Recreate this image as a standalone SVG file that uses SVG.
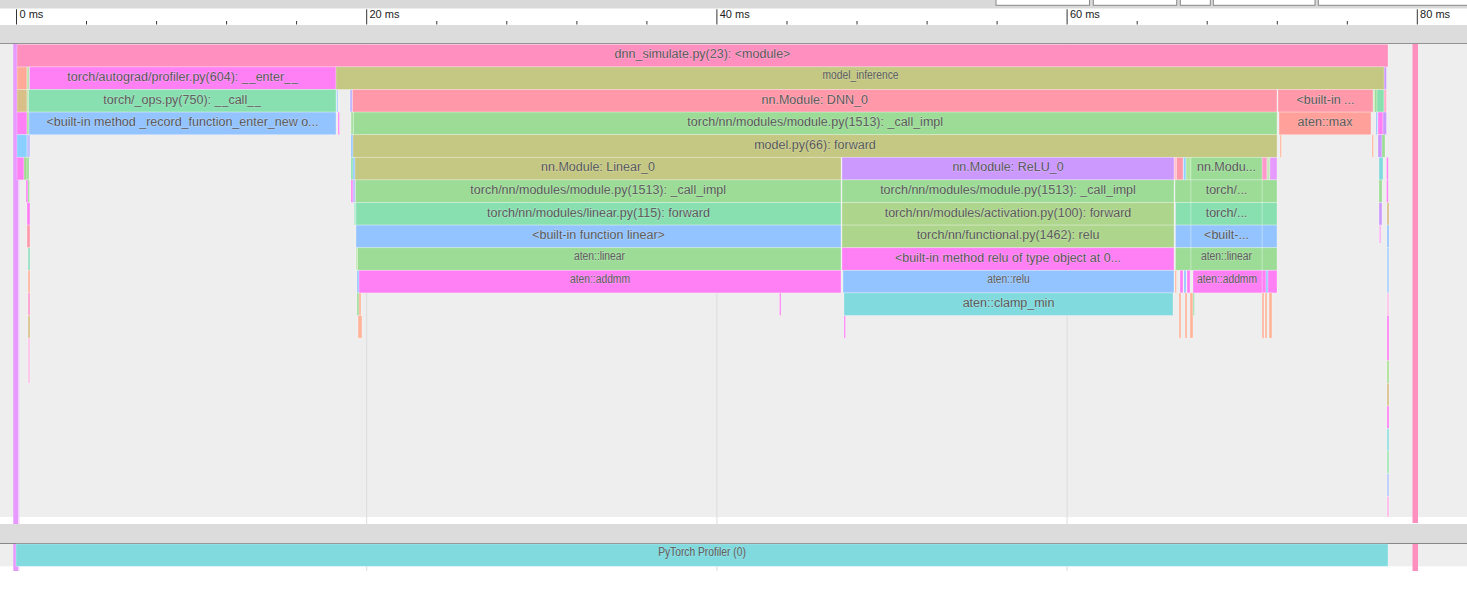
<svg xmlns="http://www.w3.org/2000/svg" width="1467" height="593" viewBox="0 0 1467 593">
<style>
.t{font-family:"Liberation Sans",Arial,sans-serif;font-size:12.5px;fill:#111;text-anchor:middle}
.s{font-family:"Liberation Sans",Arial,sans-serif;font-size:12px;fill:#111;text-anchor:middle}
.r{font-family:"Liberation Sans",Arial,sans-serif;font-size:11px;fill:#222}
.b{stroke:#fff;stroke-opacity:.35;stroke-width:.8}
.pk{fill:#ff8fbf}.mg{fill:#ff80f5}.ol{fill:#c4c882}.te{fill:#88dfb0}.gr{fill:#9cdc96}.bl{fill:#94c4ff}
.vi{fill:#cc99ff}.cy{fill:#80dade}.rs{fill:#ff99aa}.sa{fill:#ffa09a}.yg{fill:#add58b}.sl{fill:#ffb49a}
.tn{fill:#d8c088}.lv{fill:#c0c0ff}.lp{fill:#ffc0e8}
.grid{stroke:#dcdcdc;stroke-width:1}
.tk{stroke:#333;stroke-width:1}
</style>
<!-- chrome -->
<rect x="0" y="0" width="1467" height="8.7" fill="#d9d9d9"/>
<g fill="#fff" stroke="#888" stroke-width="1">
<rect x="996" y="-2" width="93.5" height="7.3"/>
<rect x="1093.3" y="-2" width="83.4" height="7.3"/>
<rect x="1180.3" y="-2" width="30" height="7.3"/>
<rect x="1213.3" y="-2" width="101.7" height="7.3"/>
<rect x="1318.3" y="-2" width="160" height="7.3"/>
</g>
<rect x="0" y="8.7" width="1467" height="16.3" fill="#fff"/>
<rect x="0" y="25" width="1467" height="18.3" fill="#dcdcdc"/>
<line x1="0" y1="43.6" x2="1467" y2="43.6" stroke="#888" stroke-width="1"/>
<rect x="0" y="44" width="1467" height="473" fill="#eee"/>
<rect x="0" y="524" width="1467" height="19" fill="#dcdcdc"/>
<line x1="0" y1="543.5" x2="1467" y2="543.5" stroke="#888" stroke-width="1"/>
<rect x="0" y="544" width="1467" height="22.3" fill="#eee"/>
<!-- ruler -->
<g class="tk">
<line x1="16.5" y1="9.3" x2="16.5" y2="24.5"/><line x1="366.7" y1="9.3" x2="366.7" y2="24.5"/><line x1="716.9" y1="9.3" x2="716.9" y2="24.5"/><line x1="1067.1" y1="9.3" x2="1067.1" y2="24.5"/><line x1="1417.3" y1="9.3" x2="1417.3" y2="24.5"/>
<line x1="86.5" y1="21" x2="86.5" y2="24.5"/><line x1="156.6" y1="21" x2="156.6" y2="24.5"/><line x1="226.6" y1="21" x2="226.6" y2="24.5"/><line x1="296.6" y1="21" x2="296.6" y2="24.5"/>
<line x1="436.8" y1="21" x2="436.8" y2="24.5"/><line x1="506.8" y1="21" x2="506.8" y2="24.5"/><line x1="576.9" y1="21" x2="576.9" y2="24.5"/><line x1="646.9" y1="21" x2="646.9" y2="24.5"/>
<line x1="787" y1="21" x2="787" y2="24.5"/><line x1="857" y1="21" x2="857" y2="24.5"/><line x1="927.1" y1="21" x2="927.1" y2="24.5"/><line x1="997.1" y1="21" x2="997.1" y2="24.5"/>
<line x1="1137.2" y1="21" x2="1137.2" y2="24.5"/><line x1="1207.2" y1="21" x2="1207.2" y2="24.5"/><line x1="1277.3" y1="21" x2="1277.3" y2="24.5"/><line x1="1347.3" y1="21" x2="1347.3" y2="24.5"/>
</g>
<text class="r" x="19.5" y="18">0 ms</text>
<text class="r" x="369.5" y="18">20 ms</text>
<text class="r" x="719.7" y="18">40 ms</text>
<text class="r" x="1069.9" y="18">60 ms</text>
<text class="r" x="1420.1" y="18">80 ms</text>
<!-- grid -->
<g class="grid">
<line x1="366.7" y1="44" x2="366.7" y2="524"/><line x1="716.9" y1="44" x2="716.9" y2="524"/><line x1="1067.1" y1="44" x2="1067.1" y2="524"/>
<line x1="366.7" y1="544" x2="366.7" y2="571"/><line x1="716.9" y1="544" x2="716.9" y2="571"/><line x1="1067.1" y1="544" x2="1067.1" y2="571"/>
</g>
<!-- long strips -->
<g id="strips">
<rect x="13.3" y="44" width="5" height="480" fill="#e699ff"/>
<rect x="18.3" y="44" width="1.2" height="480" fill="#f2d0ff"/>
<rect x="13.3" y="544" width="5" height="27" fill="#e699ff"/>
<rect x="18.3" y="544" width="1.2" height="27" fill="#f2d0ff"/>
<rect x="1412.5" y="44" width="5.5" height="479" class="pk"/>
<rect x="1412.5" y="544" width="5.5" height="27" class="pk"/>
</g>
<!-- slivers -->
<g id="slivers" class="b">
<rect x="17" y="66.9" width="10" height="22.6" fill="#ffaa99"/><rect x="27" y="66.9" width="2.5" height="22.6" fill="#b8e6b0"/>
<rect x="17" y="89.5" width="10" height="22.6" class="tn"/><rect x="27" y="89.5" width="1.5" height="22.6" fill="#b8e6b0"/>
<rect x="17" y="112.1" width="10" height="22.6" class="mg"/><rect x="27" y="112.1" width="2" height="22.6" fill="#a8e0a0"/>
<rect x="17" y="134.7" width="10" height="22.6" fill="#88d0ff"/><rect x="27" y="134.7" width="3" height="22.6" class="lv"/>
<rect x="17" y="157.3" width="7" height="22.6" class="mg"/><rect x="24" y="157.3" width="3" height="22.6" fill="#a0d890"/><rect x="27" y="157.3" width="2" height="22.6" class="gr"/>
<rect x="26" y="179.9" width="2" height="22.6" class="mg"/><rect x="28" y="179.9" width="1.5" height="22.6" class="gr"/>
<rect x="27" y="202.5" width="3" height="22.6" class="mg"/>
<rect x="27" y="225.1" width="3" height="22.6" class="rs"/>
<rect x="28" y="247.7" width="2" height="22.6" fill="#90e0c0"/>
<rect x="28" y="270.3" width="2" height="22.6" class="sl"/>
<rect x="28" y="292.9" width="2" height="22.6" fill="#ff99cc"/>
<rect x="28" y="315.5" width="2" height="22.6" class="tn"/>
<rect x="28" y="338.1" width="2" height="45" class="lp"/>
<rect x="336.5" y="89.5" width="1.5" height="22.6" fill="#a8d0ff"/>
<rect x="350" y="89.5" width="2.5" height="22.6" fill="#bfb8ff"/>
<rect x="338" y="112.1" width="1.5" height="22.6" class="mg"/>
<rect x="351" y="112.1" width="2.5" height="22.6" fill="#a8e0a0"/>
<rect x="351" y="134.7" width="2" height="22.6" class="bl"/>
<rect x="351" y="157.3" width="2" height="22.6" class="te"/><rect x="353" y="157.3" width="2" height="22.6" class="bl"/>
<rect x="351" y="179.9" width="2" height="22.6" class="mg"/><rect x="353" y="179.9" width="2.5" height="22.6" class="lv"/>
<rect x="354" y="202.5" width="2" height="22.6" fill="#b0e8d0"/>
<rect x="356" y="247.7" width="1.5" height="22.6" fill="#c0e8b0"/>
<rect x="357" y="270.3" width="2" height="22.6" class="bl"/>
<rect x="357" y="292.9" width="2" height="22.6" class="gr"/><rect x="359" y="292.9" width="2" height="22.6" class="sl"/>
<rect x="358" y="315.5" width="4" height="22.6" class="sl"/>
<rect x="779.5" y="292.9" width="1.5" height="22.6" class="mg"/>
<rect x="844" y="315.5" width="1.5" height="22.6" class="mg"/>
<rect x="1174" y="157.3" width="2.5" height="22.6" fill="#ffc0d0"/><rect x="1176.5" y="157.3" width="6.5" height="22.6" class="rs"/><rect x="1183.5" y="157.3" width="2.5" height="22.6" fill="#90d0ff"/><rect x="1186" y="157.3" width="5" height="22.6" fill="#b0e6a0"/>
<rect x="1262" y="157.3" width="5" height="22.6" fill="#ff99cc"/><rect x="1267" y="157.3" width="3" height="22.6" fill="#c8e8c0"/><rect x="1270" y="157.3" width="7" height="22.6" fill="#e699ff"/>
<rect x="1175" y="179.9" width="16" height="22.6" class="gr"/><rect x="1262" y="179.9" width="15" height="22.6" class="gr"/>
<rect x="1175.5" y="202.5" width="15.5" height="22.6" class="te"/><rect x="1262" y="202.5" width="15" height="22.6" class="te"/>
<rect x="1175.5" y="225.1" width="15.5" height="22.6" class="bl"/><rect x="1262" y="225.1" width="15" height="22.6" class="bl"/>
<rect x="1175.5" y="247.7" width="15.5" height="22.6" class="gr"/><rect x="1262" y="247.7" width="15" height="22.6" class="gr"/>
<rect x="1175" y="270.3" width="1.5" height="22.6" class="sl"/><rect x="1180" y="270.3" width="3" height="22.6" class="mg"/><rect x="1184" y="270.3" width="2" height="22.6" class="bl"/><rect x="1187" y="270.3" width="3" height="22.6" class="mg"/>
<rect x="1262" y="270.3" width="4" height="22.6" class="mg"/><rect x="1266" y="270.3" width="2" height="22.6" class="bl"/><rect x="1268" y="270.3" width="9" height="22.6" class="mg"/>
<rect x="1179" y="292.9" width="2" height="45.2" class="sl"/><rect x="1185" y="292.9" width="2" height="45.2" class="sl"/><rect x="1190" y="292.9" width="3" height="45.2" class="sl"/><rect x="1193" y="292.9" width="1.5" height="22.6" fill="#a0e0b0"/>
<rect x="1262" y="292.9" width="2" height="45.2" class="sl"/><rect x="1265" y="292.9" width="2" height="45.2" class="sl"/><rect x="1269" y="292.9" width="3" height="45.2" class="sl"/>
<rect x="1373" y="89.5" width="1.5" height="22.6" fill="#c8f0c8"/><rect x="1374.5" y="89.5" width="2.5" height="22.6" class="gr"/><rect x="1377" y="89.5" width="7" height="22.6" class="te"/><rect x="1384" y="89.5" width="2.5" height="22.6" fill="#ffb0c8"/>
<rect x="1384" y="66.9" width="2.5" height="22.6" class="vi"/>
<rect x="1376" y="112.1" width="1.5" height="22.6" class="bl"/><rect x="1378" y="112.1" width="5" height="22.6" class="mg"/><rect x="1383" y="112.1" width="3.5" height="22.6" class="vi"/>
<rect x="1280" y="134.7" width="1.5" height="22.6" class="sl"/><rect x="1372" y="134.7" width="1.5" height="22.6" class="sl"/><rect x="1378" y="134.7" width="4" height="22.6" class="vi"/><rect x="1382" y="134.7" width="3" height="22.6" class="gr"/>
<rect x="1379" y="157.3" width="4" height="22.6" class="cy"/><rect x="1386.5" y="157.3" width="1.8" height="22.6" class="mg"/>
<rect x="1379" y="179.9" width="3" height="22.6" class="gr"/><rect x="1386.5" y="179.9" width="1.8" height="22.6" class="mg"/>
<rect x="1379" y="202.5" width="3" height="22.6" class="vi"/><rect x="1387" y="202.5" width="2" height="22.6" class="tn"/>
<rect x="1379.5" y="225.1" width="1.2" height="18" class="mg"/><rect x="1387" y="225.1" width="2" height="22.6" class="bl"/>
<rect x="1387" y="247.7" width="2" height="45.2" fill="#a8d0ff"/>
<rect x="1387" y="292.9" width="2" height="22.6" class="lp"/>
<rect x="1387" y="315.5" width="2" height="45.2" class="mg"/>
<rect x="1387" y="360.7" width="2" height="22.6" fill="#a8e090"/>
<rect x="1387" y="383.3" width="2" height="22.6" class="tn"/>
<rect x="1387" y="405.9" width="2" height="22.6" class="mg"/>
<rect x="1387" y="428.5" width="2" height="22.6" fill="#90e0e0"/>
<rect x="1387" y="451.1" width="2" height="22.6" fill="#a0e6b0"/>
<rect x="1387" y="473.7" width="2" height="22.6" fill="#b8c8ff"/>
<rect x="1387" y="496.3" width="2" height="20.7" fill="#ffb8e8"/>
</g>
<!-- nodes -->
<g id="n-module" class="b"><rect x="17" y="44.3" width="1371" height="22.6" class="pk"/><text class="t" x="702.5" y="58.3">dnn_simulate.py(23): &lt;module&gt;</text></g>
<g id="n-enter" class="b"><rect x="29.5" y="66.9" width="306.5" height="22.6" class="mg"/><text class="t" x="182.7" y="80.9">torch/autograd/profiler.py(604): __enter__</text></g>
<g id="n-inference" class="b"><rect x="336" y="66.9" width="1048" height="22.6" class="ol"/><text class="s" x="860.5" y="79.3" font-size="11" textLength="76" lengthAdjust="spacingAndGlyphs">model_inference</text></g>
<g id="n-opscall" class="b"><rect x="28.5" y="89.5" width="307.5" height="22.6" class="te"/><text class="t" x="182.2" y="103.5">torch/_ops.py(750): __call__</text></g>
<g id="n-dnn0" class="b"><rect x="352.5" y="89.5" width="924.5" height="22.6" class="rs"/><text class="t" x="814.7" y="103.5">nn.Module: DNN_0</text></g>
<g id="n-builtin-max" class="b"><rect x="1278" y="89.5" width="95" height="22.6" class="rs"/><text class="t" x="1325.5" y="103.5">&lt;built-in ...</text></g>
<g id="n-record" class="b"><rect x="29" y="112.1" width="307" height="22.6" class="bl"/><text class="t" x="182.5" y="126.1">&lt;built-in method _record_function_enter_new o...</text></g>
<g id="n-callimpl0" class="b"><rect x="353.5" y="112.1" width="923.5" height="22.6" class="gr"/><text class="t" x="815.2" y="126.1">torch/nn/modules/module.py(1513): _call_impl</text></g>
<g id="n-atenmax" class="b"><rect x="1279" y="112.1" width="92" height="22.6" class="sa"/><text class="t" x="1325" y="126.1">aten::max</text></g>
<g id="n-forward" class="b"><rect x="353" y="134.7" width="924" height="22.6" class="ol"/><text class="t" x="815" y="148.7">model.py(66): forward</text></g>
<g id="n-linear0" class="b"><rect x="355" y="157.3" width="486" height="22.6" class="ol"/><text class="t" x="598" y="171.3">nn.Module: Linear_0</text></g>
<g id="n-relu0" class="b"><rect x="842" y="157.3" width="332" height="22.6" class="vi"/><text class="t" x="1008" y="171.3">nn.Module: ReLU_0</text></g>
<g id="n-linear1" class="b"><rect x="1191" y="157.3" width="71" height="22.6" class="gr"/><text class="t" x="1226.5" y="171.3">nn.Modu...</text></g>
<g id="n-callimpl1" class="b"><rect x="355.5" y="179.9" width="485.5" height="22.6" class="gr"/><text class="t" x="598.2" y="193.9">torch/nn/modules/module.py(1513): _call_impl</text></g>
<g id="n-callimpl2" class="b"><rect x="842" y="179.9" width="332" height="22.6" class="gr"/><text class="t" x="1008" y="193.9">torch/nn/modules/module.py(1513): _call_impl</text></g>
<g id="n-callimpl3" class="b"><rect x="1191" y="179.9" width="71" height="22.6" class="gr"/><text class="t" x="1226.5" y="193.9">torch/...</text></g>
<g id="n-linfwd" class="b"><rect x="356" y="202.5" width="485" height="22.6" class="te"/><text class="t" x="598.5" y="216.5">torch/nn/modules/linear.py(115): forward</text></g>
<g id="n-actfwd" class="b"><rect x="842" y="202.5" width="332" height="22.6" class="yg"/><text class="t" x="1008" y="216.5">torch/nn/modules/activation.py(100): forward</text></g>
<g id="n-linfwd1" class="b"><rect x="1191" y="202.5" width="71" height="22.6" class="te"/><text class="t" x="1226.5" y="216.5">torch/...</text></g>
<g id="n-bilinear" class="b"><rect x="356" y="225.1" width="485" height="22.6" class="bl"/><text class="t" x="598.5" y="239.1">&lt;built-in function linear&gt;</text></g>
<g id="n-frelu" class="b"><rect x="842" y="225.1" width="332" height="22.6" class="yg"/><text class="t" x="1008" y="239.1">torch/nn/functional.py(1462): relu</text></g>
<g id="n-bilinear1" class="b"><rect x="1191" y="225.1" width="71" height="22.6" class="bl"/><text class="t" x="1226.5" y="239.1">&lt;built-...</text></g>
<g id="n-atenlinear" class="b"><rect x="357.5" y="247.7" width="483.5" height="22.6" class="gr"/><text class="s" x="599.5" y="259.7" textLength="51" lengthAdjust="spacingAndGlyphs">aten::linear</text></g>
<g id="n-birelu" class="b"><rect x="842" y="247.7" width="332" height="22.6" class="mg"/><text class="t" x="1008" y="261.7">&lt;built-in method relu of type object at 0...</text></g>
<g id="n-atenlinear1" class="b"><rect x="1191" y="247.7" width="71" height="22.6" class="gr"/><text class="s" x="1226.5" y="259.7" textLength="51" lengthAdjust="spacingAndGlyphs">aten::linear</text></g>
<g id="n-addmm" class="b"><rect x="359" y="270.3" width="482" height="22.6" class="mg"/><text class="s" x="600" y="282.5" textLength="60" lengthAdjust="spacingAndGlyphs">aten::addmm</text></g>
<g id="n-atenrelu" class="b"><rect x="843" y="270.3" width="331" height="22.6" class="bl"/><text class="s" x="1008.5" y="282.5" textLength="42.3" lengthAdjust="spacingAndGlyphs">aten::relu</text></g>
<g id="n-addmm1" class="b"><rect x="1193" y="270.3" width="69" height="22.6" class="mg"/><text class="s" x="1227" y="282.5" textLength="60" lengthAdjust="spacingAndGlyphs">aten::addmm</text></g>
<g id="n-clamp" class="b"><rect x="844" y="292.9" width="329" height="22.6" class="cy"/><text class="t" x="1008.5" y="306.9">aten::clamp_min</text></g>
<g id="n-profiler" class="b"><rect x="16" y="544" width="1372" height="22.3" class="cy"/><text class="s" x="702" y="555.5" textLength="87.7" lengthAdjust="spacingAndGlyphs">PyTorch Profiler (0)</text></g>
</svg>
